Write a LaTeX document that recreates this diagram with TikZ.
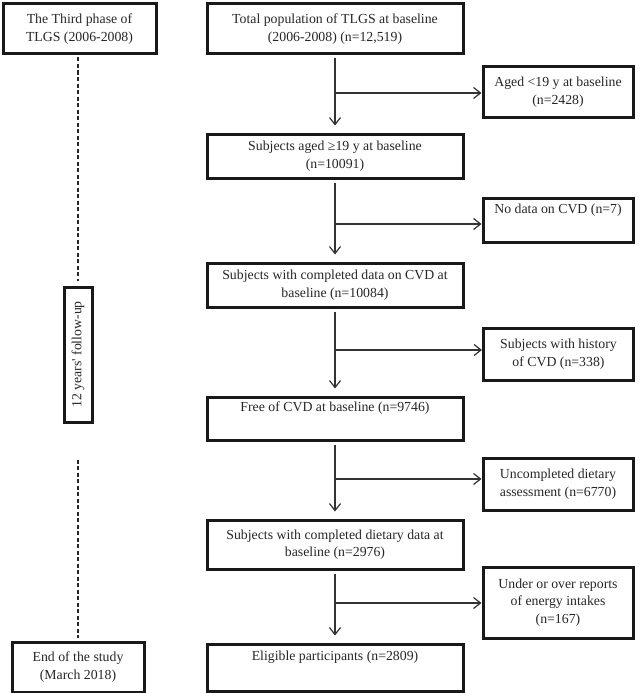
\documentclass[tikz,border=0pt]{standalone}
\usepackage{fontspec}
\setmainfont{Liberation Serif}
\usetikzlibrary{arrows.meta}
\begin{document}
\begin{tikzpicture}[x=1pt,y=-1pt,
  box/.style={draw=black!90, line width=3pt, rectangle, inner sep=0pt, align=center,
    font=\fontsize{13.8}{17.5}\selectfont, text=black!85},
  conn/.style={line width=1.2pt, draw=black!80},
  arr/.style={conn, -{Straight Barb[length=7pt,width=11pt,line width=1.2pt]}},
  tl/.style={line width=1.2pt, draw=black!85, dash pattern=on 4pt off 2.5pt}]
\useasboundingbox (0,0) rectangle (643,693);
% left column
\node[box, minimum width=153pt, minimum height=50pt] (L1) at (79.5,29) {The Third phase of\\TLGS (2006-2008)};
\node[box, minimum width=28pt, minimum height=135pt] (V) at (78,354.5) {};
\node[rotate=90, font=\fontsize{13.8}{17.5}\selectfont, text=black!85, inner sep=0pt] (Vt) at (V.center) {12 years\textquotesingle{} follow-up};
\node[box, minimum width=132pt, minimum height=50pt] (L2) at (78,667) {End of the study\\(March 2018)};
% main column
\node[box, minimum width=256pt, minimum height=50pt] (B1) at (335,29) {Total population of TLGS at baseline\\(2006-2008) (n=12,519)};
\node[box, minimum width=256pt, minimum height=44pt] (B2) at (335,156) {Subjects aged ≥19 y at baseline\\(n=10091)};
\node[box, minimum width=256pt, minimum height=44pt] (B3) at (335,285) {Subjects with completed data on CVD at\\baseline (n=10084)};
\node[box, minimum width=256pt, minimum height=43pt] (B4) at (335,418.5) {Free of CVD at baseline (n=9746)\\\strut};
\node[box, minimum width=256pt, minimum height=49pt] (B5) at (335,544.5) {Subjects with completed dietary data at\\baseline (n=2976)};
\node[box, minimum width=256pt, minimum height=47pt] (B6) at (335,667.5) {Eligible participants (n=2809)\\\strut};
% right column
\node[box, minimum width=150pt, minimum height=50pt] (R1) at (558,92) {Aged <19 y at baseline\\(n=2428)};
\node[box, minimum width=150pt, minimum height=44pt] (R2) at (558,220) {No data on CVD (n=7)\\\strut};
\node[box, minimum width=150pt, minimum height=52pt] (R3) at (558.5,354) {Subjects with history\\of CVD (n=338)};
\node[box, minimum width=150pt, minimum height=52pt] (R4) at (558,484) {Uncompleted dietary\\assessment (n=6770)};
\node[box, minimum width=150pt, minimum height=71pt] (R5) at (558,602.5) {Under or over reports\\of energy intakes\\(n=167)};
% dashed timeline
\draw[tl] ([yshift=-2pt]L1.south -| V.north) -- ([yshift=5pt]V.north);
\draw[tl] ([yshift=-36pt]V.south) -- ([yshift=3pt]L2.north);
% vertical arrows
\draw[arr] ([yshift=-3pt]B1.south) -- ([yshift=7pt]B2.north);
\draw[arr] ([yshift=-3pt]B2.south) -- ([yshift=7pt]B3.north);
\draw[arr] ([yshift=-3pt]B3.south) -- ([yshift=7pt]B4.north);
\draw[arr] ([yshift=-3pt]B4.south) -- ([yshift=7pt]B5.north);
\draw[arr] ([yshift=-3pt]B5.south) -- ([yshift=7pt]B6.north);
% side arrows
\coordinate (h1) at (335,93);
\coordinate (h2) at (335,224);
\coordinate (h3) at (335,350);
\coordinate (h4) at (335,479);
\coordinate (h5) at (335,603);
\draw[arr] (h1) -- (h1 -| R1.west);
\draw[arr] (h2) -- (h2 -| R2.west);
\draw[arr] (h3) -- (h3 -| R3.west);
\draw[arr] (h4) -- (h4 -| R4.west);
\draw[arr] (h5) -- (h5 -| R5.west);
\end{tikzpicture}
\end{document}
